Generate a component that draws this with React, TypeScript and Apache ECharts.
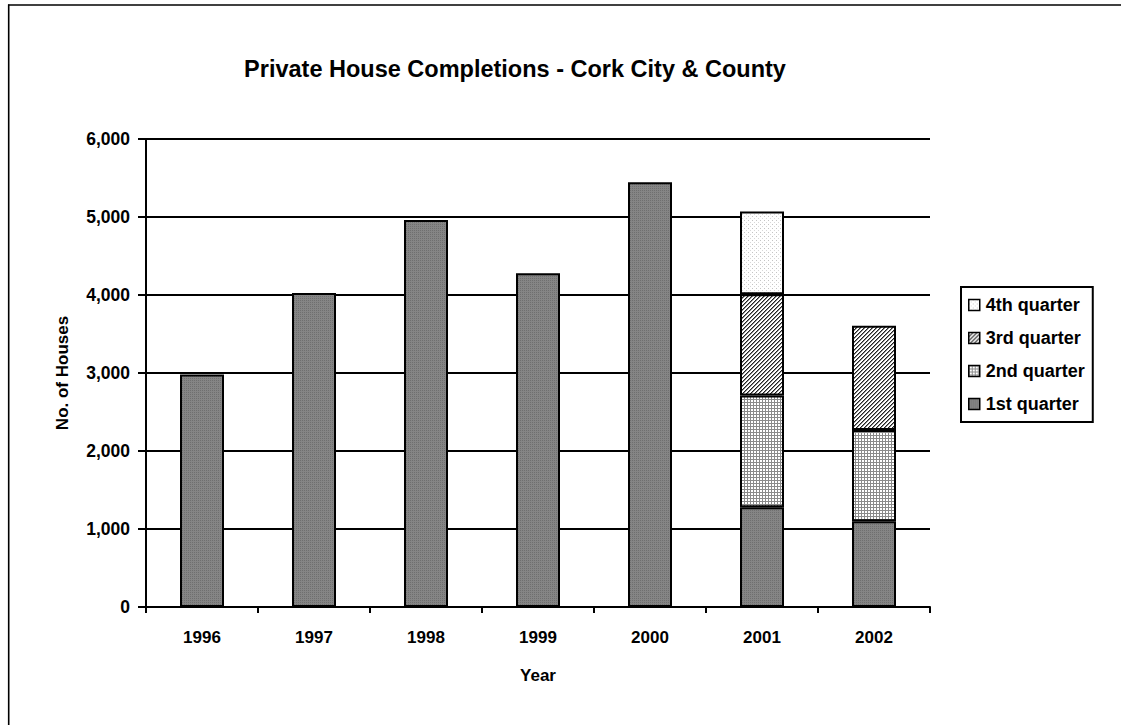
import React, { useEffect, useRef } from "react";
import * as echarts from "echarts";

const years = ["1996", "1997", "1998", "1999", "2000", "2001", "2002"];
const q1 = [2980, 4025, 4960, 4280, 5445, 1280, 1100];
const q2 = [null, null, null, null, null, 1430, 1170];
const q3 = [null, null, null, null, null, 1300, 1335];
const q4 = [null, null, null, null, null, 1060, null];
const yTicks = [0, 1000, 2000, 3000, 4000, 5000, 6000];
const legendOrder = ["4th quarter", "3rd quarter", "2nd quarter", "1st quarter"];

const FONT = "Arial, 'Liberation Sans', sans-serif";

function makePattern(kind: string) {
  const size = kind === "grid" ? 3 : kind === "dark" ? 2 : 4;
  const c = document.createElement("canvas");
  c.width = size;
  c.height = size;
  const ctx = c.getContext("2d")!;
  const px = (x: number, y: number, col: string) => {
    ctx.fillStyle = col;
    ctx.fillRect(x, y, 1, 1);
  };
  if (kind === "dark") {
    ctx.fillStyle = "#858585";
    ctx.fillRect(0, 0, size, size);
    px(0, 0, "#6f6f6f");
  } else if (kind === "grid") {
    ctx.fillStyle = "#ffffff";
    ctx.fillRect(0, 0, size, size);
    ctx.fillStyle = "#8a8a8a";
    ctx.fillRect(0, 0, size, 1);
    ctx.fillRect(0, 0, 1, size);
  } else if (kind === "diag") {
    ctx.fillStyle = "#ffffff";
    ctx.fillRect(0, 0, size, size);
    for (let i = 0; i < 4; i++) {
      px(i, 3 - i, "#222222");
      px(i, (4 - i) % 4, "#8a8a8a");
    }
  } else {
    ctx.fillStyle = "#ffffff";
    ctx.fillRect(0, 0, size, size);
    px(0, 0, "#c4c4c4");
    px(2, 2, "#d8d8d8");
  }
  return {
    image: c.toDataURL(),
    imageWidth: size,
    imageHeight: size,
    repeat: "repeat",
  } as any;
}

export default function App() {
  const ref = useRef<HTMLDivElement>(null);
  useEffect(() => {
    if (!ref.current) return;
    const chart = echarts.init(ref.current, null, { renderer: "svg" });
    const mk = (name: string, data: (number | null)[], kind: string) => ({
      name,
      type: "bar",
      stack: "total",
      data,
      barWidth: 44,
      itemStyle: {
        color: makePattern(kind),
        borderColor: "#000",
        borderWidth: 2,
      },
      emphasis: { disabled: true },
    });
    chart.setOption({
      animation: false,
      backgroundColor: "#ffffff",
      grid: { left: 146, right: 192, top: 139, bottom: 118, containLabel: false },
      xAxis: {
        type: "category",
        data: years,
        axisLine: { show: true, lineStyle: { color: "#000", width: 2 } },
        axisTick: { show: true, length: 6, lineStyle: { color: "#000", width: 2 } },
        axisLabel: {
          margin: 22,
          color: "#000",
          fontFamily: FONT,
          fontWeight: "bold",
          fontSize: 17,
        },
        splitLine: { show: false },
      },
      yAxis: {
        type: "value",
        min: yTicks[0],
        max: yTicks[yTicks.length - 1],
        interval: 1000,
        axisLine: { show: true, lineStyle: { color: "#000", width: 2 } },
        axisTick: { show: true, length: 8, lineStyle: { color: "#000", width: 2 } },
        axisLabel: {
          margin: 16,
          color: "#000",
          fontFamily: FONT,
          fontWeight: "bold",
          fontSize: 17.5,
          formatter: (v: number) => v.toLocaleString("en-US"),
        },
        splitLine: { show: true, lineStyle: { color: "#000", width: 2 } },
      },
      legend: {
        data: legendOrder,
        orient: "vertical",
        left: 961,
        top: 287,
        borderColor: "#000",
        borderWidth: 2,
        padding: [9, 8, 9, 7],
        itemWidth: 11,
        itemHeight: 11,
        itemGap: 15,
        icon: "rect",
        itemStyle: { borderColor: "#000", borderWidth: 1.5 },
        textStyle: {
          color: "#000",
          fontFamily: FONT,
          fontWeight: "bold",
          fontSize: 18,
          lineHeight: 18,
          padding: [0, 0, 0, 1],
        },
        selectedMode: false,
      },
      graphic: [
        {
          type: "line",
          shape: { x1: 8.7, y1: 4.5, x2: 8.7, y2: 730 },
          style: { stroke: "#000", lineWidth: 1.6 },
          silent: true,
        },
        {
          type: "line",
          shape: { x1: 8, y1: 5, x2: 1121, y2: 5 },
          style: { stroke: "#000", lineWidth: 1.6 },
          silent: true,
        },
        {
          type: "text",
          x: 515,
          y: 69,
          style: {
            text: "Private House Completions - Cork City & County",
            fill: "#000",
            font: `bold 23.5px ${FONT}`,
            textAlign: "center",
            textVerticalAlign: "middle",
          },
        },
        {
          type: "text",
          x: 538,
          y: 675,
          style: {
            text: "Year",
            fill: "#000",
            font: `bold 17px ${FONT}`,
            textAlign: "center",
            textVerticalAlign: "middle",
          },
        },
        {
          type: "text",
          x: 62,
          y: 373,
          rotation: Math.PI / 2,
          style: {
            text: "No. of Houses",
            fill: "#000",
            font: `bold 17px ${FONT}`,
            textAlign: "center",
            textVerticalAlign: "middle",
          },
        },
      ],
      series: [
        mk("1st quarter", q1, "dark"),
        mk("2nd quarter", q2, "grid"),
        mk("3rd quarter", q3, "diag"),
        mk("4th quarter", q4, "light"),
      ],
    });
    return () => chart.dispose();
  }, []);
  return (
    <div
      ref={ref}
      style={{ position: "absolute", left: 0, top: 0, width: 1122, height: 725 }}
    />
  );
}
